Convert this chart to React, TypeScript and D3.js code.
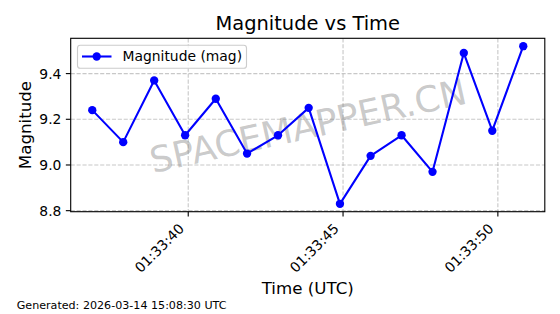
import React from "react";
import * as d3 from "d3";

const timeStrings = [
  "01:33:36.90", "01:33:37.90", "01:33:38.90", "01:33:39.90", "01:33:40.89",
  "01:33:41.90", "01:33:42.90", "01:33:43.89", "01:33:44.90", "01:33:45.89",
  "01:33:46.89", "01:33:47.89", "01:33:48.90", "01:33:49.82", "01:33:50.82",
];
const magnitudes = [9.24, 9.10, 9.37, 9.13, 9.29, 9.05, 9.13, 9.25, 8.83, 9.04, 9.13, 8.97, 9.49, 9.15, 9.52];
const xTickLabels = ["01:33:40", "01:33:45", "01:33:50"];
const yTickValues = [8.8, 9.0, 9.2, 9.4];
const dateStr = "2026-03-14";

const parse = (s: string) => new Date(`${dateStr}T${s}Z`);

const W = 560, H = 314;
const L = 70.7, R = 544.8, T = 38.3, B = 211.7;
const FONT = "DejaVu Sans, sans-serif";
const PT = 100 / 72;

export default function App() {
  const times = timeStrings.map(parse);
  const tMin = +times[0], tMax = +times[times.length - 1];
  const tPad = (tMax - tMin) * 0.05;
  const x = d3.scaleUtc().domain([new Date(tMin - tPad), new Date(tMax + tPad)]).range([L, R]);
  const yMin = d3.min(magnitudes)!, yMax = d3.max(magnitudes)!;
  const yPad = (yMax - yMin) * 0.05;
  const y = d3.scaleLinear().domain([yMin - yPad, yMax + yPad]).range([B, T]);
  const pts: [number, number][] = times.map((t, i) => [x(t), y(magnitudes[i])]);
  const line = d3.line()(pts) || "";
  const xTicks = xTickLabels.map((s) => ({ label: s, px: x(parse(s)) }));
  const tickFs = 10 * PT;
  const tickLen = 3.5 * PT;
  const lw = 0.8 * PT;
  const cx = (L + R) / 2, cy = (T + B) / 2;

  return (
    <svg width={W} height={H} style={{ display: "block", position: "absolute", left: 0, top: 0 }} fontFamily={FONT}>
      <rect x={0} y={0} width={W} height={H} fill="#fff" />
      {/* grid */}
      <g stroke="#b0b0b0" strokeOpacity={0.7} strokeWidth={lw} strokeDasharray={`${2.96 * PT},${1.28 * PT}`}>
        {xTicks.map((t) => (
          <line key={t.label} x1={t.px} x2={t.px} y1={T} y2={B} />
        ))}
        {yTickValues.map((v) => (
          <line key={v} x1={L} x2={R} y1={y(v)} y2={y(v)} />
        ))}
      </g>
      {/* watermark */}
      <text x={cx} y={cy + 1} transform={`rotate(-12.5 ${cx} ${cy})`} textAnchor="middle" dominantBaseline="central"
        fontSize={36} fill="#808080" fillOpacity={0.42}>SPACEMAPPER.CN</text>
      {/* series */}
      <path d={line} fill="none" stroke="#0000ff" strokeWidth={1.5 * PT} strokeLinejoin="round" />
      {pts.map(([px, py], i) => (
        <circle key={i} cx={px} cy={py} r={3 * PT} fill="#0000ff" />
      ))}
      {/* spines */}
      <rect x={L} y={T} width={R - L} height={B - T} fill="none" stroke="#000" strokeWidth={lw} />
      {/* y ticks */}
      {yTickValues.map((v) => (
        <g key={v}>
          <line x1={L - tickLen} x2={L} y1={y(v)} y2={y(v)} stroke="#000" strokeWidth={lw} />
          <text x={L - 9.3} y={y(v) + 0.36 * tickFs} textAnchor="end" fontSize={tickFs}>{v.toFixed(1)}</text>
        </g>
      ))}
      {/* x ticks */}
      {xTicks.map((t) => {
        const bx = t.px - 3.3, by = 229.5;
        return (
          <g key={t.label}>
            <line x1={t.px} x2={t.px} y1={B} y2={B + tickLen} stroke="#000" strokeWidth={lw} />
            <text x={bx} y={by} transform={`rotate(-45 ${bx} ${by})`} textAnchor="end" fontSize={tickFs}>{t.label}</text>
          </g>
        );
      })}
      {/* labels */}
      <text x={cx} y={30} textAnchor="middle" fontSize={14 * PT}>Magnitude vs Time</text>
      <text x={cx} y={294} textAnchor="middle" fontSize={12 * PT}>Time (UTC)</text>
      <text x={30.5} y={cy} transform={`rotate(-90 30.5 ${cy})`} textAnchor="middle" fontSize={12 * PT}>Magnitude</text>
      {/* legend */}
      <g>
        <rect x={77.5} y={45.2} width={169} height={23} rx={2.8} fill="#fff" fillOpacity={0.8} stroke="#cccccc" strokeWidth={lw} />
        <line x1={82} x2={111.5} y1={56.5} y2={56.5} stroke="#0000ff" strokeWidth={1.5 * PT} />
        <circle cx={96.7} cy={56.5} r={3 * PT} fill="#0000ff" />
        <text x={122.5} y={61.3} fontSize={tickFs}>Magnitude (mag)</text>
      </g>
      <text x={16.7} y={309} fontSize={8 * PT}>Generated: 2026-03-14 15:08:30 UTC</text>
    </svg>
  );
}
